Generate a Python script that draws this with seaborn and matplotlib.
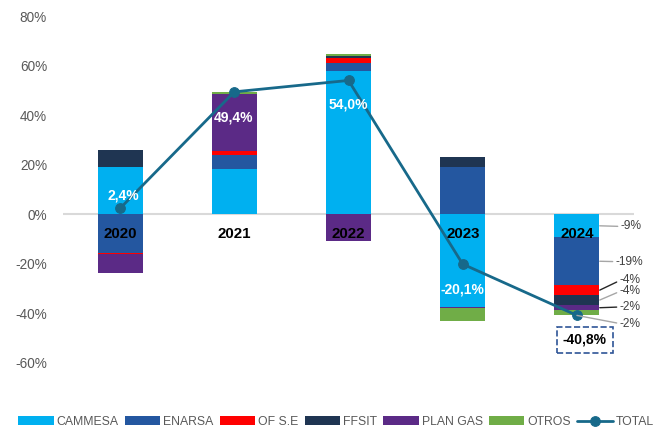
import numpy as np
import pandas as pd
import seaborn as sns
import matplotlib.pyplot as plt

# Data (percent)
years = ['2020', '2021', '2022', '2023', '2024']
series_names = ['CAMMESA', 'ENARSA', 'OF S.E', 'FFSIT', 'PLAN GAS', 'OTROS']
cammesa = [19.0, 18.2, 58.0, -37.6, -9.3]
enarsa = [-15.5, 5.8, 3.0, 19.0, -19.3]
of_se = [-0.5, 1.7, 2.0, 0.0, -4.0]
ffsit = [6.8, 0.0, 1.0, 4.0, -4.0]
plan_gas = [-7.6, 22.8, -10.7, -0.4, -2.2]
otros = [0.2, 0.9, 0.7, -5.1, -2.0]
total = [2.4, 49.4, 54.0, -20.1, -40.8]
total_labels = ['2,4%', '49,4%', '54,0%', '-20,1%', '-40,8%']
labels_2024 = ['-9%', '-19%', '-4%', '-4%', '-2%', '-2%']
y_ticks = [-60, -40, -20, 0, 20, 40, 60, 80]

colors = ['#00B0F0', '#2457A0', '#FF0000', '#1F3552', '#5B2A86', '#70AD47']
line_color = '#17698A'

sns.set_theme(style='white')
plt.rcParams['font.family'] = ['Liberation Sans', 'DejaVu Sans']

fig = plt.figure(figsize=(6.63, 4.29), dpi=100)
ax = fig.add_axes([63 / 663, 1 - 363 / 429, 571 / 663, 347 / 429])

# Stacked bars: positives go up, negatives go down (Excel style)
values = [cammesa, enarsa, of_se, ffsit, plan_gas, otros]
pos_base = np.zeros(len(years))
neg_base = np.zeros(len(years))
bottoms = []
for name, vals, col in zip(series_names, values, colors):
    vals = np.array(vals)
    bottom = np.where(vals >= 0, pos_base, neg_base)
    bottoms.append(bottom)
    df = pd.DataFrame({'year': years, 'value': vals})
    sns.barplot(data=df, x='year', y='value', bottom=bottom, color=col,
                width=0.395, saturation=1, linewidth=0, errorbar=None,
                label=name, ax=ax, zorder=2)
    pos_base = pos_base + np.where(vals >= 0, vals, 0)
    neg_base = neg_base + np.where(vals < 0, vals, 0)

# Total line
sns.lineplot(x=np.arange(len(years)), y=total, color=line_color, linewidth=2,
             marker='o', markersize=7, markeredgecolor=line_color,
             label='TOTAL', ax=ax, zorder=4)

ax.axhline(0, color='#D9D9D9', linewidth=1.5, zorder=1)
ax.set_ylim(-60, 80)
ax.set_xlim(-0.5, len(years) - 0.5)
ax.set_yticks(y_ticks)
ax.set_yticklabels([f'{v}%' for v in y_ticks], fontsize=9.8, color='#595959')
ax.tick_params(axis='y', length=0, pad=11.5)
ax.tick_params(axis='x', length=0, labelbottom=False)
ax.set_xlabel('')
ax.set_ylabel('')
sns.despine(ax=ax, left=True, bottom=True)
ax.grid(False)

# Year labels just below the zero line
for i, yr in enumerate(years):
    ax.text(i, -8, yr, ha='center', va='center', fontsize=10.8,
            fontweight='bold', color='black', zorder=5)

# Total labels
offsets = [5.1, -10.3, -9.8, -10.1]
x_shift = [0.03, -0.01, 0.0, 0.0]
for i in range(4):
    ax.text(i + x_shift[i], total[i] + offsets[i], total_labels[i], ha='center',
            va='center', fontsize=10, fontweight='bold', color='white', zorder=5)
ax.text(4.07, -50.7, total_labels[4], ha='center', va='center', fontsize=10,
        fontweight='bold', color='black', zorder=5,
        bbox=dict(boxstyle='square,pad=0.45', facecolor='white',
                  edgecolor='#2F5597', linestyle='--', linewidth=1.2))

# 2024 segment labels with leader lines
text_x = [4.386, 4.342, 4.377, 4.377, 4.377, 4.377]
text_y = [-4.9, -19.1, -26.7, -31.1, -37.4, -44.1]
leader_cols = ['#A6A6A6', '#A6A6A6', '#262626', '#A6A6A6', '#262626', '#A6A6A6']
for k in range(len(series_names)):
    mid = bottoms[k][4] + values[k][4] / 2
    anchor = (4.2, mid)
    if k == len(series_names) - 1:
        anchor = (4.0, bottoms[k][4] + values[k][4])
    ax.annotate(labels_2024[k], xy=anchor, xytext=(text_x[k], text_y[k]),
                ha='left', va='center', fontsize=8.6, color='#404040',
                arrowprops=dict(arrowstyle='-', color=leader_cols[k], lw=1,
                                shrinkA=0, shrinkB=0, relpos=(0, 0.5)),
                zorder=5)

# Legend: bars first, TOTAL last
handles, labels = ax.get_legend_handles_labels()
order = [labels.index(n) for n in series_names + ['TOTAL']]
handles = [handles[i] for i in order]
labels = [labels[i] for i in order]
leg = ax.get_legend()
if leg is not None:
    leg.remove()
fig.legend(handles, labels, loc='center', bbox_to_anchor=(336 / 663, 1 - 422 / 429),
           ncol=7, frameon=False, fontsize=8.8, handlelength=2.9,
           handletextpad=0.25, columnspacing=0.5, handleheight=0.7,
           labelcolor='#595959')

fig.savefig('out.png', dpi=100)
